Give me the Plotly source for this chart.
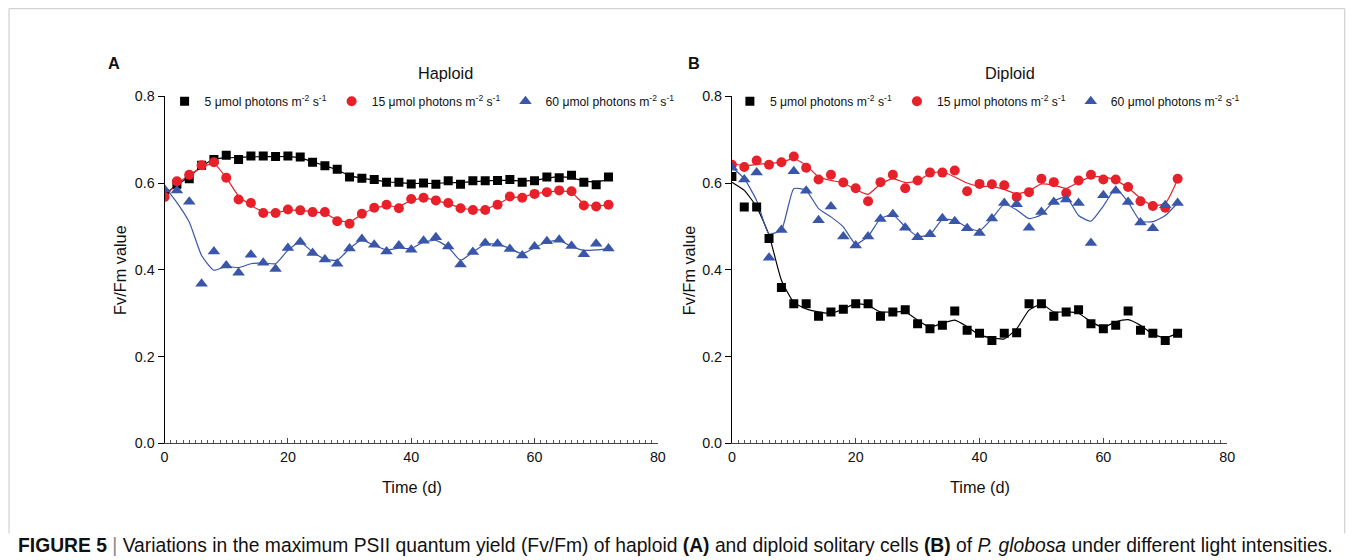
import plotly.graph_objects as go

# Sampling days (every 2 d)
days = [0, 2, 4, 6, 8, 10, 12, 14, 16, 18, 20, 22, 24, 26, 28, 30, 32, 34, 36,
        38, 40, 42, 44, 46, 48, 50, 52, 54, 56, 58, 60, 62, 64, 66, 68, 70, 72]

# Haploid Fv/Fm measurements
hap_5 = [0.575, 0.597, 0.610, 0.641, 0.654, 0.664, 0.654, 0.662, 0.662, 0.661,
         0.662, 0.660, 0.648, 0.640, 0.632, 0.614, 0.611, 0.608, 0.602, 0.602,
         0.598, 0.600, 0.597, 0.605, 0.597, 0.605, 0.605, 0.606, 0.608, 0.602,
         0.605, 0.614, 0.612, 0.618, 0.602, 0.596, 0.614]
hap_15 = [0.568, 0.604, 0.619, 0.641, 0.648, 0.612, 0.562, 0.554, 0.531, 0.531,
          0.539, 0.537, 0.533, 0.533, 0.512, 0.506, 0.529, 0.543, 0.550, 0.542,
          0.563, 0.566, 0.560, 0.554, 0.542, 0.538, 0.538, 0.550, 0.569, 0.566,
          0.575, 0.579, 0.583, 0.581, 0.548, 0.546, 0.550]
hap_60 = [0.585, 0.583, 0.557, 0.368, 0.442, 0.410, 0.393, 0.435, 0.416, 0.402,
          0.450, 0.464, 0.439, 0.424, 0.414, 0.449, 0.471, 0.458, 0.442, 0.456,
          0.446, 0.467, 0.475, 0.454, 0.412, 0.441, 0.462, 0.460, 0.448, 0.433,
          0.454, 0.466, 0.469, 0.455, 0.436, 0.460, 0.449]

# Haploid smoothed trend curves
hap_5_fit = [0.575, 0.595, 0.615, 0.638, 0.655, 0.658, 0.659, 0.660, 0.661, 0.661,
             0.661, 0.658, 0.649, 0.640, 0.630, 0.617, 0.611, 0.607, 0.603, 0.601,
             0.599, 0.599, 0.599, 0.601, 0.601, 0.603, 0.605, 0.606, 0.606, 0.605,
             0.606, 0.611, 0.614, 0.612, 0.605, 0.603, 0.608]
hap_15_fit = [0.568, 0.598, 0.618, 0.636, 0.645, 0.612, 0.570, 0.548, 0.535, 0.532,
              0.537, 0.537, 0.534, 0.530, 0.515, 0.510, 0.528, 0.542, 0.547, 0.546,
              0.560, 0.565, 0.560, 0.552, 0.543, 0.538, 0.540, 0.551, 0.566, 0.568,
              0.575, 0.579, 0.582, 0.578, 0.552, 0.547, 0.550]
hap_60_fit = [0.591, 0.555, 0.510, 0.433, 0.399, 0.408, 0.405, 0.414, 0.416, 0.414,
              0.445, 0.464, 0.441, 0.425, 0.422, 0.449, 0.469, 0.456, 0.446, 0.450,
              0.449, 0.464, 0.468, 0.452, 0.422, 0.441, 0.459, 0.459, 0.449, 0.437,
              0.451, 0.464, 0.468, 0.454, 0.445, 0.446, 0.449]

# Diploid Fv/Fm measurements
dip_5 = [0.615, 0.545, 0.545, 0.472, 0.359, 0.322, 0.322, 0.293, 0.303, 0.309,
         0.322, 0.322, 0.293, 0.303, 0.308, 0.276, 0.264, 0.272, 0.305, 0.261,
         0.254, 0.237, 0.254, 0.255, 0.322, 0.322, 0.293, 0.303, 0.308, 0.276,
         0.264, 0.272, 0.305, 0.261, 0.254, 0.237, 0.254]
dip_15 = [0.642, 0.637, 0.652, 0.642, 0.648, 0.661, 0.635, 0.608, 0.619, 0.601,
          0.588, 0.558, 0.602, 0.619, 0.588, 0.606, 0.624, 0.624, 0.629, 0.581,
          0.598, 0.597, 0.595, 0.568, 0.579, 0.610, 0.602, 0.577, 0.606, 0.619,
          0.608, 0.608, 0.591, 0.558, 0.547, 0.543, 0.610]
dip_60 = [0.635, 0.608, 0.624, 0.428, 0.492, 0.627, 0.582, 0.514, 0.546, 0.477,
          0.456, 0.477, 0.517, 0.528, 0.497, 0.475, 0.482, 0.519, 0.512, 0.496,
          0.485, 0.518, 0.554, 0.551, 0.497, 0.533, 0.556, 0.562, 0.554, 0.462,
          0.572, 0.582, 0.556, 0.509, 0.496, 0.549, 0.554]

# Diploid smoothed trend curves
dip_5_fit = [0.602, 0.583, 0.545, 0.480, 0.376, 0.325, 0.310, 0.303, 0.299, 0.310,
             0.322, 0.318, 0.303, 0.303, 0.303, 0.284, 0.268, 0.277, 0.284, 0.269,
             0.250, 0.243, 0.241, 0.264, 0.307, 0.321, 0.303, 0.303, 0.300, 0.280,
             0.268, 0.280, 0.285, 0.272, 0.252, 0.243, 0.254]
dip_15_fit = [0.645, 0.640, 0.643, 0.645, 0.648, 0.656, 0.641, 0.614, 0.606, 0.600,
              0.585, 0.574, 0.598, 0.610, 0.601, 0.605, 0.622, 0.626, 0.614, 0.600,
              0.592, 0.593, 0.585, 0.575, 0.582, 0.598, 0.595, 0.588, 0.602, 0.614,
              0.614, 0.606, 0.589, 0.565, 0.548, 0.553, 0.608]
dip_60_fit = [0.637, 0.610, 0.560, 0.483, 0.492, 0.587, 0.583, 0.541, 0.522, 0.499,
              0.459, 0.477, 0.518, 0.527, 0.499, 0.477, 0.481, 0.516, 0.514, 0.498,
              0.490, 0.518, 0.551, 0.538, 0.518, 0.527, 0.558, 0.568, 0.525, 0.512,
              0.547, 0.587, 0.556, 0.512, 0.511, 0.525, 0.554]

series_names = ["5 \u03bcmol photons m<sup>-2</sup> s<sup>-1</sup>",
                "15 \u03bcmol photons m<sup>-2</sup> s<sup>-1</sup>",
                "60 \u03bcmol photons m<sup>-2</sup> s<sup>-1</sup>"]
colors = ["#000000", "#e8202a", "#3a56a8"]
symbols = ["square", "circle", "triangle-up"]
sizes = [9, 10, 11]

W, H = 1352, 560
FONT = "Liberation Sans, Arial, sans-serif"

# Layout positions are written in on-screen pixels; these convert them to
# paper fractions, allowing for the page offset and scale of the viewer.
X0, SX = 3.5, 0.9906
Y0, SY = 7.8, 0.971


def px_x(p):
    return ((p - X0) / SX) / W


def px_y(p):
    return 1 - ((p - Y0) / SY) / H


fig = go.Figure()

panels = [
    ("x", "y", "legend", [hap_5, hap_15, hap_60], [hap_5_fit, hap_15_fit, hap_60_fit]),
    ("x2", "y2", "legend2", [dip_5, dip_15, dip_60], [dip_5_fit, dip_15_fit, dip_60_fit]),
]

for xa, ya, lg, pts, fits in panels:
    for i in range(3):
        fig.add_trace(go.Scatter(
            x=days, y=fits[i], mode="lines", xaxis=xa, yaxis=ya,
            line=dict(color=colors[i], width=1.2, shape="spline", smoothing=0.5),
            showlegend=False, hoverinfo="skip"))
    for i in range(3):
        fig.add_trace(go.Scatter(
            x=days, y=pts[i], mode="markers", xaxis=xa, yaxis=ya,
            name=series_names[i], legend=lg,
            marker=dict(symbol=symbols[i], color=colors[i], size=sizes[i],
                        line=dict(width=0))))

# Plot area bounds (screen pixels)
yb, yt = 443, 96
doms = {"A": (164, 657), "B": (731, 1226)}

xaxis_style = dict(range=[0, 80], tickvals=[0, 20, 40, 60, 80], showline=True,
                   linecolor="#444", linewidth=1, ticks="inside", ticklen=5,
                   tickcolor="#444", showgrid=False, zeroline=False,
                   tickfont=dict(size=14.3, color="#111"),
                   minor=dict(dtick=1, ticks="inside", ticklen=3, tickcolor="#555",
                              showgrid=False))
yaxis_style = dict(range=[0, 0.8], tickvals=[0, 0.2, 0.4, 0.6, 0.8], tickformat=".1f",
                   showline=True, linecolor="#000", linewidth=1, ticks="outside",
                   ticklen=6, tickcolor="#000", showgrid=False, zeroline=False,
                   tickfont=dict(size=14.3, color="#111"))

legend_style = dict(orientation="h", xanchor="left", yanchor="middle",
                    font=dict(size=12.2), bgcolor="rgba(0,0,0,0)", itemclick=False,
                    itemdoubleclick=False, tracegroupgap=0)

fig.update_layout(
    width=W, height=H, margin=dict(l=0, r=0, t=0, b=0),
    paper_bgcolor="white", plot_bgcolor="white",
    font=dict(family=FONT, color="#111"),
    xaxis=dict(domain=[px_x(doms["A"][0]), px_x(doms["A"][1])], anchor="y", **xaxis_style),
    yaxis=dict(domain=[px_y(yb), px_y(yt)], anchor="x", **yaxis_style),
    xaxis2=dict(domain=[px_x(doms["B"][0]), px_x(doms["B"][1])], anchor="y2", **xaxis_style),
    yaxis2=dict(domain=[px_y(yb), px_y(yt)], anchor="x2", **yaxis_style),
    legend=dict(x=px_x(164), y=px_y(101), **legend_style),
    legend2=dict(x=px_x(729), y=px_y(101), **legend_style),
)

annotations = [
    dict(text="<b>A</b>", x=px_x(113), y=px_y(63)),
    dict(text="<b>B</b>", x=px_x(693), y=px_y(63)),
    dict(text="Haploid", x=px_x(445), y=px_y(73)),
    dict(text="Diploid", x=px_x(1009), y=px_y(73)),
    dict(text="Fv/Fm value", x=px_x(120), y=px_y(270), textangle=-90),
    dict(text="Fv/Fm value", x=px_x(688), y=px_y(270), textangle=-90),
    dict(text="Time (d)", x=px_x(411), y=px_y(487)),
    dict(text="Time (d)", x=px_x(979), y=px_y(487)),
]
for a in annotations:
    fig.add_annotation(xref="paper", yref="paper", showarrow=False,
                       xanchor="center", yanchor="middle",
                       font=dict(size=16.3, family=FONT, color="#111"), **a)

fig.add_annotation(
    xref="paper", yref="paper", showarrow=False, xanchor="left", yanchor="middle",
    x=px_x(15), y=px_y(545),
    text=("<b>FIGURE 5</b> <span style='color:#888'>|</span> Variations in the maximum PSII "
          "quantum yield (Fv/Fm) of haploid <b>(A)</b> and diploid solitary cells <b>(B)</b> "
          "of <i>P. globosa</i> under different light intensities."),
    font=dict(size=19.3, family=FONT, color="#111"))

# Frame around the figure body
frame = "#c8c8c8"
for x0, y0, x1, y1 in [(8.5, 8.5, 1343.5, 8.5), (8.5, 8.5, 8.5, 533),
                       (1343.5, 8.5, 1343.5, 533)]:
    fig.add_shape(type="line", xref="paper", yref="paper",
                  x0=px_x(x0), y0=px_y(y0), x1=px_x(x1), y1=px_y(y1),
                  line=dict(color=frame, width=1))

fig.write_html("out.html")
